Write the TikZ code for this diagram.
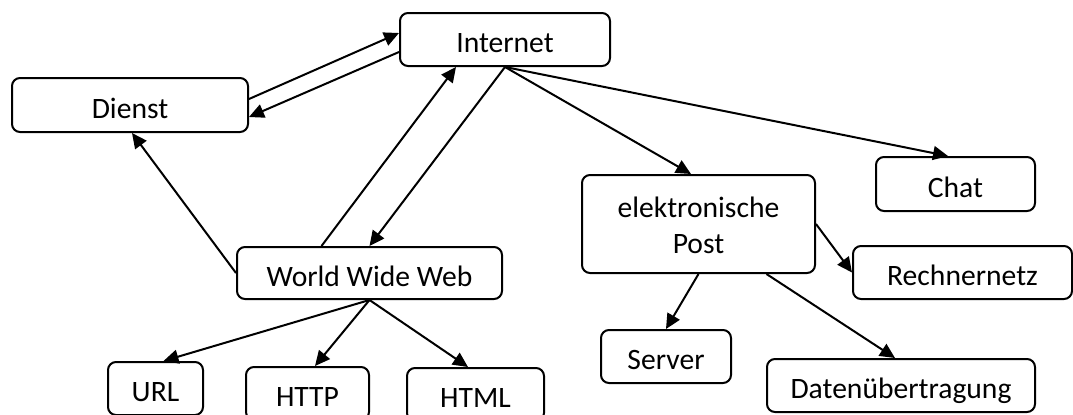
\documentclass[tikz,border=0pt]{standalone}
\usepackage{fontspec}
\setmainfont{Carlito}
\usepackage{tikz}
\usetikzlibrary{arrows.meta}

\begin{document}
\begin{tikzpicture}[
    x=0.5pt,y=-0.5pt,
    box/.style={draw,rectangle,rounded corners=4pt,line width=1pt,
                minimum height=26.5pt,inner sep=0pt,align=center,
                text height=13pt,text depth=0pt,
                font=\fontsize{14.8}{18}\selectfont},
    arr/.style={-{Triangle[length=7.5pt,width=7pt]},line width=1pt},
  ]
    \useasboundingbox (0,0) rectangle (1073,414);
    \node[box,minimum width=105pt]  (INT)  at (505,39.5)   {Internet};
    \node[box,minimum width=118pt,minimum height=27pt] (DI) at (130,105) {Dienst};
    \node[box,minimum width=132.5pt,minimum height=26pt] (WWW) at (369.5,273) {World Wide Web};
    \node[box,minimum width=47.5pt] (URL)  at (155.5,388.5) {URL};
    \node[box,minimum width=61.5pt] (HTTP) at (307.5,393.5) {HTTP};
    \node[box,minimum width=68.5pt] (HTML) at (475.5,394.5) {HTML};
    \node[box,minimum width=116.5pt,minimum height=49pt,text height=29pt] (EP) at (698.5,224) {elektronische\\Post};
    \node[box,minimum width=79.5pt,minimum height=27pt] (CH) at (955.5,184) {Chat};
    \node[box,minimum width=109.5pt] (RN)  at (962.5,272.5) {Rechnernetz};
    \node[box,minimum width=65pt]   (SRV)  at (666,356.5)   {Server};
    \node[box,minimum width=134pt]  (DU)   at (901,385.5)   {Datenübertragung};
    \draw[arr] ([yshift=3pt]DI.east) -- ([yshift=3.25pt]INT.west);
    \draw[arr] ([yshift=-6.25pt]INT.west) -- ([yshift=-6pt]DI.east);
    \draw[arr] (WWW.west) -- ([xshift=1pt]DI.south);
    \draw[arr] ([xshift=-24pt]WWW.north) -- ([xshift=-24.5pt]INT.south);
    \draw[arr] (INT.south) -- (WWW.north);
    \draw[arr] (INT.south) -- ([xshift=-3.75pt]EP.north);
    \draw[arr] (INT.south) -- ([xshift=-3.75pt]CH.north);
    \draw[arr] (EP.east) -- (RN.west);
    \draw[arr] (EP.south) -- (SRV.north);
    \draw[arr] ([xshift=34pt]EP.south) -- ([xshift=-3pt]DU.north);
    \draw[arr] (WWW.south) -- ([xshift=4pt]URL.north);
    \draw[arr] (WWW.south) -- ([xshift=3.75pt]HTTP.north);
    \draw[arr] (WWW.south) -- ([xshift=-3.75pt]HTML.north);
  \end{tikzpicture}
\end{document}
